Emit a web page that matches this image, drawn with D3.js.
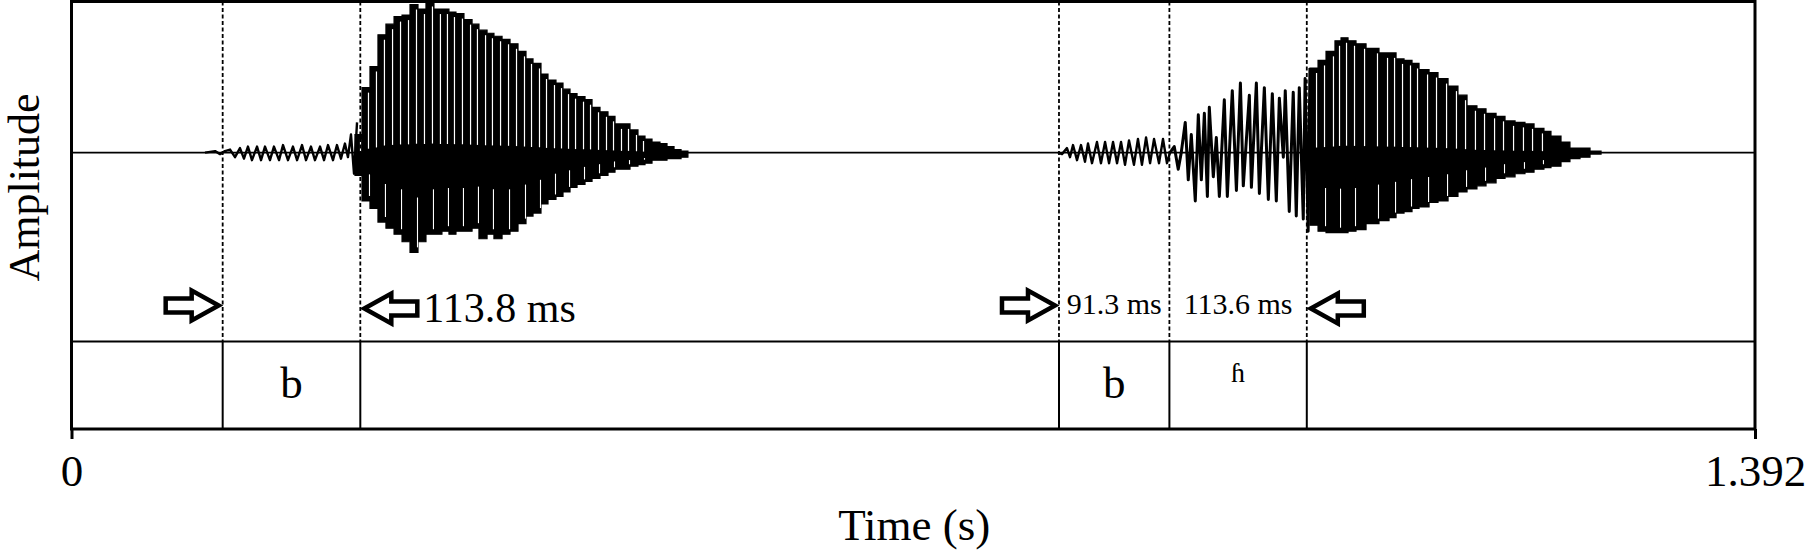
<!DOCTYPE html>
<html>
<head>
<meta charset="utf-8">
<script src="https://cdn.jsdelivr.net/npm/d3@7/dist/d3.min.js"></script>
<style>
  html, body { margin: 0; padding: 0; background: #fff; }
  svg { display: block; }
  text { font-family: "Liberation Serif", "Times New Roman", "DejaVu Serif", serif; fill: #000; }
</style>
</head>
<body>
<svg id="chart"></svg>
<script>
// time axis (s)
const timeDomain = [0, 1.392];
const tickValues = [0, 1.392];
const tickLabels = ["0", "1.392"];

// segments on the label tier (s)
const segLabels = ["b", "b", "ɦ"];
const segStart = [0.1250, 0.8165, 0.9078];
const segEnd = [0.2388, 0.9078, 1.0214];
const boundaries = [0.1250, 0.2388, 0.8165, 0.9078, 1.0214];

// duration notes
const durLabels = ["113.8 ms", "91.3 ms", "113.6 ms"];

// arrows pointing at boundaries
const arrowTimes = [0.1250, 0.2388, 0.8165, 1.0214];
const arrowDirs = [1, -1, 1, -1];

// low-level waveform, extrema: [ms, amplitude]
const prevoicing1 = [
  [110.4, 0], [118.7, 0.01], [122.8, -0.01], [126.9, 0.01], [131.1, 0.02],
  [135.2, -0.03], [139.3, 0.03], [142.6, -0.04], [145.9, 0.04], [149.2, -0.05],
  [153.4, 0.04], [156.7, -0.05], [160.0, 0.04], [164.1, -0.05], [167.4, 0.04],
  [171.6, -0.05], [174.9, 0.05], [179.0, -0.05], [183.1, 0.04], [186.5, -0.05],
  [190.6, 0.05], [193.9, -0.05], [198.0, 0.04], [201.3, -0.05], [205.5, 0.04],
  [208.8, -0.05], [212.1, 0.05], [216.2, -0.05], [219.5, 0.05], [222.8, -0.04],
  [226.1, 0.06], [228.6, -0.03], [231.1, 0.12], [233.6, -0.14], [236.1, 0.2]
];

const prevoicing2 = [
  [815.7, 0], [819.0, -0.01], [823.1, 0.03], [825.6, -0.03], [828.1, 0.05],
  [831.4, -0.05], [834.7, 0.05], [838.0, -0.06], [840.5, 0.06], [843.8, -0.07],
  [847.9, 0.07], [851.2, -0.07], [854.6, 0.07], [857.9, -0.07], [861.2, 0.07],
  [864.5, -0.07], [867.8, 0.07], [871.1, -0.08], [874.4, 0.08], [878.5, -0.08],
  [881.8, 0.09], [885.1, -0.08], [888.5, 0.10], [891.8, -0.07], [895.1, 0.09],
  [899.2, -0.07], [902.5, 0.09], [905.8, -0.07], [908.3, 0]
];

// breathy part, extrema [ms, amplitude]
const breathy = [
  [908.3, 0], [911.8, 0.04], [915.1, -0.11], [917.6, 0], [920.9, 0.20],
  [923.4, -0.18], [925.9, 0.12], [929.2, -0.32], [931.7, 0.25], [934.2, -0.18],
  [936.7, 0.26], [939.2, -0.29], [940.8, 0.30], [944.1, -0.16], [946.6, 0.10],
  [949.1, -0.29], [953.2, 0.35], [955.7, -0.29], [959.8, 0.41], [963.2, -0.25],
  [966.5, 0.46], [968.9, -0.22], [973.9, 0.38], [975.6, -0.23], [979.7, 0.46],
  [982.2, -0.27], [986.3, 0.43], [989.6, -0.31], [992.9, 0.39], [996.2, -0.32],
  [998.7, 0.36], [1002.0, -0.03], [1003.6, 0.41], [1006.9, -0.39], [1010.2, 0.40],
  [1012.7, -0.42], [1015.2, 0.43], [1018.5, -0.44], [1020.0, 0.49], [1022.5, -0.52],
  [1024.0, 0.56]
];

// vowels, one entry per glottal pulse: [ms, top, bottom]
const vowel1 = [
  [234.4, 0.12, -0.15], [240.2, 0.43, -0.32], [246.8, 0.57, -0.37], [253.4, 0.78, -0.46],
  [260.0, 0.85, -0.50], [266.7, 0.90, -0.54], [273.3, 0.91, -0.59], [279.9, 0.98, -0.66],
  [286.5, 0.95, -0.59], [293.1, 1.00, -0.54], [299.7, 0.95, -0.54], [306.3, 0.95, -0.52],
  [312.1, 0.93, -0.54], [317.9, 0.92, -0.52], [324.5, 0.88, -0.52], [331.2, 0.85, -0.50],
  [336.9, 0.81, -0.57], [343.6, 0.79, -0.54], [349.3, 0.77, -0.57], [356.0, 0.75, -0.54],
  [362.6, 0.72, -0.52], [369.2, 0.67, -0.47], [375.8, 0.62, -0.42], [381.6, 0.59, -0.40],
  [388.2, 0.52, -0.34], [394.0, 0.48, -0.31], [400.6, 0.46, -0.29], [406.4, 0.42, -0.26],
  [412.2, 0.39, -0.23], [418.0, 0.37, -0.21], [424.6, 0.35, -0.19], [430.4, 0.30, -0.17],
  [437.0, 0.27, -0.15], [443.6, 0.24, -0.13], [449.4, 0.19, -0.11], [456.0, 0.19, -0.11],
  [461.8, 0.15, -0.09], [468.4, 0.11, -0.08], [474.2, 0.09, -0.07], [480.0, 0.07, -0.05],
  [486.6, 0.06, -0.05], [492.4, 0.04, -0.04], [498.2, 0.02, -0.04], [504.0, 0.01, -0.03],
  [509.7, 0.00, -0.01]
];

const vowel2 = [
  [1024.0, 0.56, -0.48], [1030.7, 0.61, -0.52], [1037.3, 0.67, -0.53], [1044.7, 0.74, -0.53],
  [1049.7, 0.76, -0.53], [1055.5, 0.74, -0.52], [1062.1, 0.72, -0.51], [1070.4, 0.69, -0.47],
  [1081.1, 0.66, -0.45], [1089.4, 0.66, -0.43], [1095.2, 0.62, -0.40], [1101.8, 0.61, -0.39],
  [1108.4, 0.59, -0.37], [1114.2, 0.55, -0.36], [1122.5, 0.53, -0.33], [1129.9, 0.49, -0.32],
  [1138.2, 0.44, -0.29], [1146.4, 0.38, -0.26], [1153.9, 0.31, -0.24], [1162.1, 0.29, -0.22],
  [1169.6, 0.26, -0.20], [1177.9, 0.24, -0.17], [1185.3, 0.21, -0.16], [1193.6, 0.20, -0.14],
  [1201.8, 0.19, -0.13], [1209.3, 0.16, -0.11], [1217.5, 0.14, -0.10], [1223.3, 0.11, -0.09],
  [1231.6, 0.07, -0.06], [1239.0, 0.03, -0.04], [1247.3, 0.03, -0.03], [1255.6, 0.01, -0.01],
  [1264.7, 0.00, 0.00]
];

// layout
const svgWidth = 1808, svgHeight = 553;
const margin = { top: 1.5, left: 71.5, right: 53, bottom: 124 };
const width = svgWidth - margin.left - margin.right;
const height = svgHeight - margin.top - margin.bottom;
const waveHeight = 340;

const svgEl = d3.select("#chart").attr("width", svgWidth).attr("height", svgHeight);
const svg = svgEl.append("g").attr("transform", `translate(${margin.left},${margin.top})`);

const xScale = d3.scaleLinear().domain(timeDomain).range([0, width]);
const yScale = d3.scaleLinear().domain([-1.25, 1]).range([waveHeight, 0]);
const ms = v => xScale(v / 1000);

// zero line
svg.append("line")
  .attr("x1", xScale(timeDomain[0])).attr("x2", xScale(timeDomain[1]))
  .attr("y1", yScale(0)).attr("y2", yScale(0))
  .attr("stroke", "#000").attr("stroke-width", 1.6);

// dense vowel parts as filled envelopes, one column per pulse
const area = d3.area()
  .x(d => ms(d[0]))
  .y0(d => yScale(d[2]))
  .y1(d => yScale(d[1]))
  .curve(d3.curveStepAfter);

[vowel1, vowel2].forEach(v => {
  svg.append("path")
    .attr("d", area(v))
    .attr("fill", "#000")
    .attr("stroke", "#000")
    .attr("stroke-width", 1.2);

  // thin white gaps just before each pulse
  for (let i = 1; i < v.length - 6; i++) {
    const gx = ms(v[i][0]) - 1.5;
    const top = v[i - 1][1];
    const bot = v[i - 1][2];
    svg.append("line")
      .attr("x1", gx).attr("x2", gx)
      .attr("y1", yScale(top) + 5).attr("y2", yScale(top * 0.06))
      .attr("stroke", "#fff").attr("stroke-width", 1.2);
    if (i % 2 === 0) {
      svg.append("line")
        .attr("x1", gx + 1).attr("x2", gx + 1)
        .attr("y1", yScale(bot) - 5).attr("y2", yScale(bot * 0.45))
        .attr("stroke", "#fff").attr("stroke-width", 1.1);
    }
  }
});

// low-level oscillations as a line
const line = d3.line()
  .x(d => ms(d[0]))
  .y(d => yScale(d[1]));

svg.selectAll(".osc")
  .data([prevoicing1, prevoicing2, breathy])
  .enter()
  .append("path")
  .attr("d", d => line(d))
  .attr("fill", "none")
  .attr("stroke", "#000")
  .attr("stroke-width", (d, i) => i === 2 ? 3 : 2.4)
  .attr("stroke-linejoin", "round");

// dashed boundary lines in the waveform panel
svg.selectAll(".dash")
  .data(boundaries)
  .enter()
  .append("line")
  .attr("x1", d => xScale(d)).attr("x2", d => xScale(d))
  .attr("y1", 0).attr("y2", waveHeight)
  .attr("stroke", "#000")
  .attr("stroke-width", 1.8)
  .attr("stroke-dasharray", "4,2.5");

// tier
svg.append("line")
  .attr("x1", 0).attr("x2", width)
  .attr("y1", waveHeight).attr("y2", waveHeight)
  .attr("stroke", "#000").attr("stroke-width", 2);

svg.selectAll(".bound")
  .data(boundaries)
  .enter()
  .append("line")
  .attr("x1", d => xScale(d)).attr("x2", d => xScale(d))
  .attr("y1", waveHeight).attr("y2", height)
  .attr("stroke", "#000")
  .attr("stroke-width", 2);

svg.selectAll(".seg")
  .data(segLabels)
  .enter()
  .append("text")
  .attr("x", (d, i) => xScale((segStart[i] + segEnd[i]) / 2))
  .attr("y", d => d === "ɦ" ? 380 : 396)
  .attr("text-anchor", "middle")
  .attr("font-size", d => d === "ɦ" ? 28 : 45)
  .text(d => d);

// arrows
const arrowPath = dir => {
  const p = [[0, 0], [-27, -15], [-27, -7], [-53, -7], [-53, 7], [-27, 7], [-27, 15]];
  return "M" + p.map(q => [q[0] * dir, q[1]].join(",")).join("L") + "Z";
};

svg.selectAll(".arrow")
  .data(arrowTimes)
  .enter()
  .append("path")
  .attr("d", (d, i) => arrowPath(arrowDirs[i]))
  .attr("transform", (d, i) => `translate(${xScale(d) - 4 * arrowDirs[i]},${i % 2 === 0 ? 304 : 307})`)
  .attr("fill", "#fff")
  .attr("stroke", "#000")
  .attr("stroke-width", 4.5)
  .attr("stroke-linejoin", "miter");

// duration notes
svg.append("text")
  .attr("x", xScale(segEnd[0]) + 63)
  .attr("y", 320)
  .attr("font-size", 42)
  .text(durLabels[0]);

[1, 2].forEach(i => {
  svg.append("text")
    .attr("x", xScale((segStart[i] + segEnd[i]) / 2))
    .attr("y", 312)
    .attr("text-anchor", "middle")
    .attr("font-size", 30)
    .text(durLabels[i]);
});

// frame
svg.append("rect")
  .attr("x", 0).attr("y", 0)
  .attr("width", width).attr("height", height)
  .attr("fill", "none")
  .attr("stroke", "#000")
  .attr("stroke-width", 3);

// time axis
const xAxis = d3.axisBottom(xScale)
  .tickValues(tickValues)
  .tickSize(10)
  .tickFormat((d, i) => tickLabels[i]);

const xAxisGroup = svg.append("g")
  .attr("transform", `translate(0,${height})`)
  .call(xAxis);
xAxisGroup.select(".domain").remove();
xAxisGroup.selectAll(".tick line").attr("stroke", "#000").attr("stroke-width", 3);
xAxisGroup.selectAll(".tick text")
  .attr("font-family", null)
  .attr("font-size", 45)
  .attr("fill", "#000")
  .attr("dy", null)
  .attr("y", 57);

// axis titles
svg.append("text")
  .attr("x", width / 2 + 1)
  .attr("y", height + 111)
  .attr("text-anchor", "middle")
  .attr("font-size", 45)
  .text("Time (s)");

svg.append("text")
  .attr("transform", `translate(${-margin.left + 39},${186}) rotate(-90)`)
  .attr("text-anchor", "middle")
  .attr("font-size", 44)
  .text("Amplitude");
</script>
</body>
</html>
